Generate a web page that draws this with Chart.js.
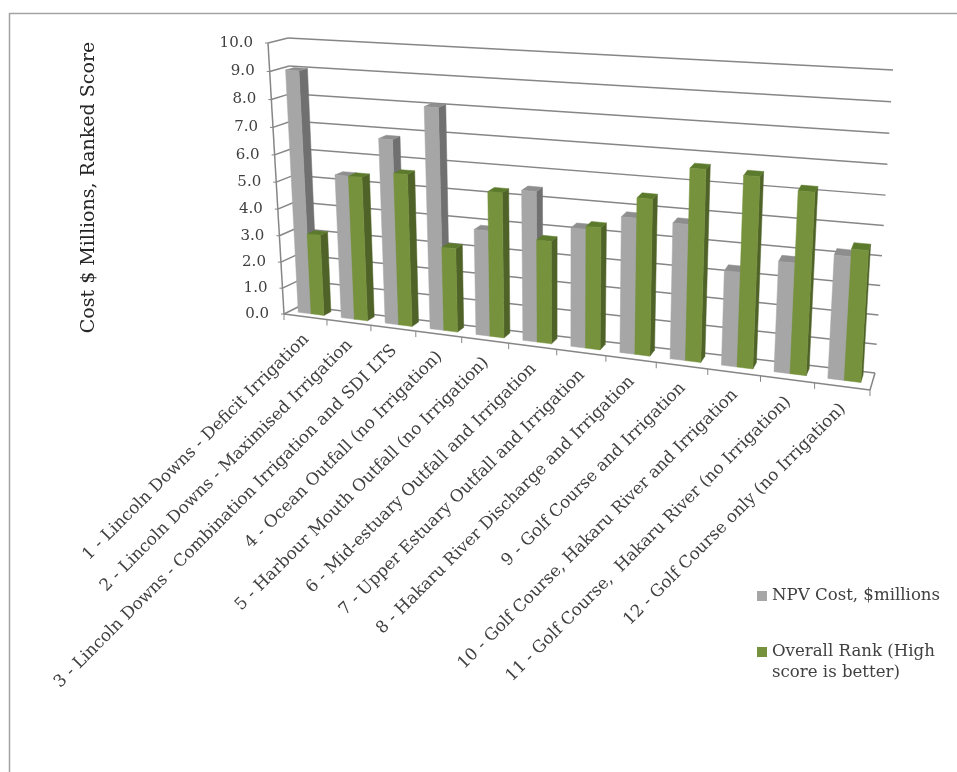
<!DOCTYPE html>
<html>
<head>
<meta charset="utf-8">
<title>Cost and ranked score</title>
<script src="https://cdn.jsdelivr.net/npm/chart.js@4"></script>
<style>
    html, body { margin: 0; padding: 0; background: #fff; }
    canvas { display: block; }
</style>
</head>
<body>
<canvas id="cost-chart" width="957" height="772"></canvas>
<script>
const categories = [
    "1 - Lincoln Downs - Deficit Irrigation",
    "2 - Lincoln Downs - Maximised Irrigation",
    "3 - Lincoln Downs - Combination Irrigation and SDI LTS",
    "4 - Ocean Outfall (no Irrigation)",
    "5 - Harbour Mouth Outfall (no Irrigation)",
    "6 - Mid-estuary Outfall and Irrigation",
    "7 - Upper Estuary Outfall and Irrigation",
    "8 - Hakaru River Discharge and Irrigation",
    "9 - Golf Course and Irrigation",
    "10 - Golf Course, Hakaru River and Irrigation",
    "11 - Golf Course,  Hakaru River (no Irrigation)",
    "12 - Golf Course only (no Irrigation)"
];
const npvCost = [9.0, 5.35, 6.8, 8.05, 3.85, 5.4, 4.25, 4.8, 4.75, 3.3, 3.8, 4.2];
const overallRank = [3.05, 5.35, 5.6, 3.08, 5.25, 3.7, 4.35, 5.5, 6.65, 6.55, 6.2, 4.45];
const axisTitle = "Cost $ Millions, Ranked Score";

const textColor = "#404040";
const gridColor = "#868686";
const seriesColors = [
    { front: "#a6a6a6", side: "#707070", top: "#8e8e8e" },
    { front: "#76923c", side: "#4f6228", top: "#5c7a2c" }
];

// corners of the box the flat plot is projected on: bottom left, bottom right, top right, top left
const frontPlane = [[284, 314], [870, 390], [889, 81], [268, 43]];
const backPlane = [[300, 306], [875, 373], [893, 70], [288, 38]];
const barDepth = [0.36, 0.8];

// unit square to quad perspective mapping
function squareToQuad(q) {
    const [x0, y0] = q[0], [x1, y1] = q[1], [x2, y2] = q[2], [x3, y3] = q[3];
    const sx = x0 - x1 + x2 - x3, sy = y0 - y1 + y2 - y3;
    const dx1 = x1 - x2, dx2 = x3 - x2, dy1 = y1 - y2, dy2 = y3 - y2;
    const den = dx1 * dy2 - dx2 * dy1;
    const g = (sx * dy2 - dx2 * sy) / den;
    const h = (dx1 * sy - sx * dy1) / den;
    const a = x1 - x0 + g * x1, b = x3 - x0 + h * x3;
    const d = y1 - y0 + g * y1, e = y3 - y0 + h * y3;
    return function (u, v) {
        const w = g * u + h * v + 1;
        return [(a * u + b * v + x0) / w, (d * u + e * v + y0) / w];
    };
}

const frontMap = squareToQuad(frontPlane);
const backMap = squareToQuad(backPlane);

function project(u, v, z) {
    const f = frontMap(u, v), b = backMap(u, v);
    return [f[0] + (b[0] - f[0]) * z, f[1] + (b[1] - f[1]) * z];
}

function fillQuad(ctx, pts, color) {
    ctx.beginPath();
    ctx.moveTo(pts[0][0], pts[0][1]);
    for (let i = 1; i < pts.length; i++) {
        ctx.lineTo(pts[i][0], pts[i][1]);
    }
    ctx.closePath();
    ctx.fillStyle = color;
    ctx.fill();
    // thin same-colour stroke so the faces have no seams
    ctx.strokeStyle = color;
    ctx.lineWidth = 0.5;
    ctx.stroke();
}

function strokeLine(ctx, a, b, color, width) {
    ctx.beginPath();
    ctx.moveTo(a[0], a[1]);
    ctx.lineTo(b[0], b[1]);
    ctx.strokeStyle = color;
    ctx.lineWidth = width;
    ctx.stroke();
}

function drawFrame(chart) {
    const ctx = chart.ctx;
    ctx.strokeStyle = "#a3a3a3";
    ctx.lineWidth = 1.5;
    ctx.beginPath();
    ctx.moveTo(chart.width, 13.5);
    ctx.lineTo(9.5, 13.5);
    ctx.lineTo(9.5, chart.height);
    ctx.stroke();
}

function drawWalls(chart) {
    const ctx = chart.ctx, yScale = chart.scales.y, area = chart.chartArea;
    const toV = (val) => (area.bottom - yScale.getPixelForValue(val)) / area.height;

    ctx.font = "15px 'DejaVu Serif'";
    ctx.textAlign = "right";
    ctx.textBaseline = "middle";
    ctx.fillStyle = textColor;

    yScale.ticks.forEach((tick) => {
        const v = toV(tick.value);
        strokeLine(ctx, project(0, v, 0), project(0, v, 1), gridColor, 1.5);
        strokeLine(ctx, project(0, v, 1), project(1, v, 1), gridColor, 1.5);
        const p = project(0, v, 0);
        strokeLine(ctx, [p[0] - 3, p[1]], p, gridColor, 1);
        ctx.fillText(tick.value.toFixed(1), p[0] - 15, p[1]);
    });

    // vertical axis, floor edges and category ticks
    strokeLine(ctx, project(0, 0, 0), project(0, 1, 0), gridColor, 1.5);
    strokeLine(ctx, project(0, 0, 0), project(1, 0, 0), gridColor, 1.5);
    strokeLine(ctx, project(1, 0, 0), project(1, 0, 1), gridColor, 1.5);
    for (let i = 0; i <= categories.length; i++) {
        const p = project(i / categories.length, 0, 0);
        strokeLine(ctx, p, [p[0], p[1] + 6], gridColor, 1);
    }
}

function drawBars(chart) {
    const ctx = chart.ctx, area = chart.chartArea;
    const toU = (px) => (px - area.left) / area.width;
    const toV = (px) => (area.bottom - px) / area.height;
    const near = barDepth[0], far = barDepth[1];

    categories.forEach((name, i) => {
        chart.data.datasets.forEach((ds, d) => {
            const bar = chart.getDatasetMeta(d).data[i];
            const colors = seriesColors[d];
            const u0 = toU(bar.x - bar.width / 2), u1 = toU(bar.x + bar.width / 2);
            const v0 = toV(bar.base), v1 = toV(bar.y);

            fillQuad(ctx, [project(u1, v0, near), project(u1, v0, far), project(u1, v1, far), project(u1, v1, near)], colors.side);
            fillQuad(ctx, [project(u0, v1, near), project(u1, v1, near), project(u1, v1, far), project(u0, v1, far)], colors.top);
            fillQuad(ctx, [project(u0, v0, near), project(u1, v0, near), project(u1, v1, near), project(u0, v1, near)], colors.front);
        });
    });
}

function drawLabels(chart) {
    const ctx = chart.ctx, xScale = chart.scales.x, area = chart.chartArea;

    ctx.font = "16.8px 'DejaVu Serif'";
    ctx.fillStyle = textColor;
    ctx.textAlign = "right";
    ctx.textBaseline = "middle";
    xScale.getLabels().forEach((label, i) => {
        const u = (xScale.getPixelForValue(i) - area.left) / area.width;
        const p = project(u, 0, 0);
        ctx.save();
        ctx.translate(p[0] + 1, p[1] + 20);
        ctx.rotate(-Math.PI / 4);
        ctx.fillText(label, 0, 0);
        ctx.restore();
    });

    ctx.save();
    ctx.translate(89, 187.5);
    ctx.rotate(-Math.PI / 2);
    ctx.font = "19px 'DejaVu Serif'";
    ctx.textAlign = "center";
    ctx.fillStyle = "#262626";
    ctx.fillText(axisTitle, 0, 0);
    ctx.restore();
}

function wrapText(ctx, text, maxWidth) {
    const lines = [];
    let line = "";
    text.split(" ").forEach((word) => {
        const next = line ? line + " " + word : word;
        if (ctx.measureText(next).width > maxWidth && line) {
            lines.push(line);
            line = word;
        } else {
            line = next;
        }
    });
    lines.push(line);
    return lines;
}

function drawLegend(chart) {
    const ctx = chart.ctx;
    let y = 596;
    ctx.font = "16.6px 'DejaVu Serif'";
    ctx.textAlign = "left";
    ctx.textBaseline = "middle";
    chart.data.datasets.forEach((ds, d) => {
        ctx.fillStyle = seriesColors[d].front;
        ctx.fillRect(757, y - 5, 10, 10);
        ctx.fillStyle = textColor;
        wrapText(ctx, ds.label, 180).forEach((line, n) => {
            ctx.fillText(line, 772, y + n * 21);
        });
        y += 56;
    });
}

// the flat bars are only laid out by Chart.js, they get painted through the projection
const projectedBoxPlugin = {
    id: "projectedBox",
    beforeDatasetsDraw(chart) {
        drawFrame(chart);
        drawWalls(chart);
        drawBars(chart);
        drawLabels(chart);
        drawLegend(chart);
        return false;
    }
};

new Chart(document.getElementById("cost-chart"), {
    type: "bar",
    data: {
        labels: categories,
        datasets: [
            { label: "NPV Cost, $millions", data: npvCost, backgroundColor: seriesColors[0].front, categoryPercentage: 0.6, barPercentage: 1 },
            { label: "Overall Rank (High score is better)", data: overallRank, backgroundColor: seriesColors[1].front, categoryPercentage: 0.6, barPercentage: 1 }
        ]
    },
    options: {
        responsive: false,
        animation: false,
        plugins: { legend: { display: false }, tooltip: { enabled: false } },
        scales: {
            x: { display: false },
            y: { display: false, min: 0, max: 10, ticks: { stepSize: 1 } }
        }
    },
    plugins: [projectedBoxPlugin]
});
</script>
</body>
</html>
